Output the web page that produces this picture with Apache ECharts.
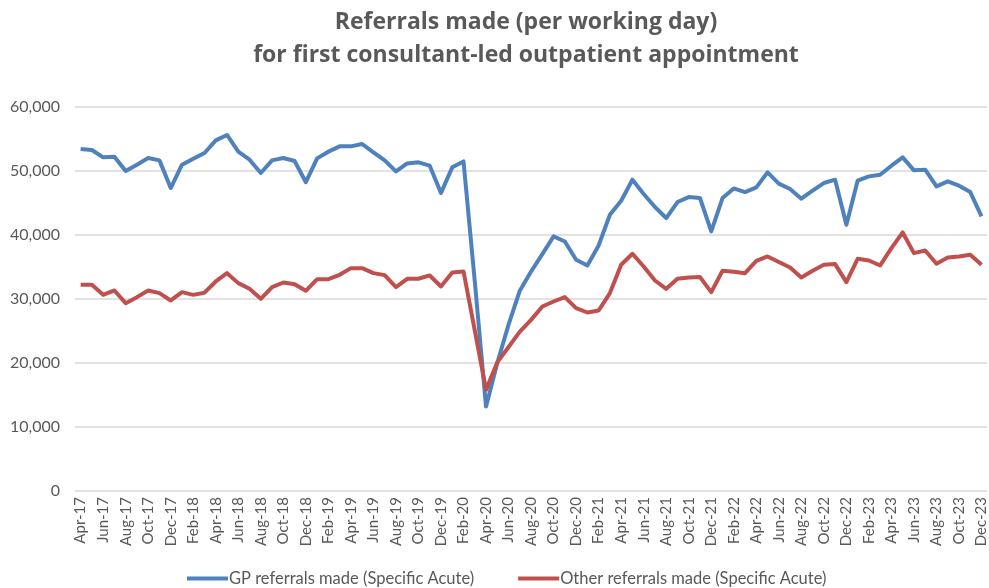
<!DOCTYPE html>
<html>
<head>
<meta charset="utf-8">
<script src="https://cdn.jsdelivr.net/npm/echarts@6/dist/echarts.min.js"></script>
<style>
	html, body { margin: 0; padding: 0; background: #ffffff; }
	#chart { width: 989px; height: 588px; }
</style>
</head>
<body>
<div id="chart"></div>
<script>
	// month labels, Apr-17 .. Dec-23
	var months = [
		'Apr-17', 'May-17', 'Jun-17', 'Jul-17', 'Aug-17', 'Sep-17', 'Oct-17', 'Nov-17', 'Dec-17',
		'Jan-18', 'Feb-18', 'Mar-18', 'Apr-18', 'May-18', 'Jun-18', 'Jul-18', 'Aug-18', 'Sep-18', 'Oct-18', 'Nov-18', 'Dec-18',
		'Jan-19', 'Feb-19', 'Mar-19', 'Apr-19', 'May-19', 'Jun-19', 'Jul-19', 'Aug-19', 'Sep-19', 'Oct-19', 'Nov-19', 'Dec-19',
		'Jan-20', 'Feb-20', 'Mar-20', 'Apr-20', 'May-20', 'Jun-20', 'Jul-20', 'Aug-20', 'Sep-20', 'Oct-20', 'Nov-20', 'Dec-20',
		'Jan-21', 'Feb-21', 'Mar-21', 'Apr-21', 'May-21', 'Jun-21', 'Jul-21', 'Aug-21', 'Sep-21', 'Oct-21', 'Nov-21', 'Dec-21',
		'Jan-22', 'Feb-22', 'Mar-22', 'Apr-22', 'May-22', 'Jun-22', 'Jul-22', 'Aug-22', 'Sep-22', 'Oct-22', 'Nov-22', 'Dec-22',
		'Jan-23', 'Feb-23', 'Mar-23', 'Apr-23', 'May-23', 'Jun-23', 'Jul-23', 'Aug-23', 'Sep-23', 'Oct-23', 'Nov-23', 'Dec-23'
	];

	var gpReferrals = [
		53440, 53280, 52130, 52240, 50000, 50990, 52030, 51660, 47340,
		50990, 51920, 52810, 54790, 55630, 53020, 51770, 49690, 51660, 52030, 51560, 48250,
		51970, 53020, 53850, 53850, 54220, 52910, 51660, 49940, 51190, 51350, 50830, 46560,
		50570, 51500, 32800, 13190, 20000, 26000, 31300, 34300, 37020, 39780, 38990, 36130,
		35240, 38370, 43170, 45360, 48640, 46400, 44370, 42650, 45150, 45930, 45770, 40560,
		45770, 47280, 46710, 47440, 49790, 48020, 47190, 45670, 46920, 48120, 48640, 41600,
		48480, 49160, 49420, 50830, 52130, 50100, 50200, 47590, 48370, 47700, 46710, 42900
	];

	var otherReferrals = [
		32220, 32220, 30650, 31330, 29350, 30290, 31330, 30920, 29770,
		31070, 30650, 30990, 32740, 34040, 32480, 31590, 30030, 31860, 32580, 32300, 31280,
		33100, 33100, 33780, 34820, 34820, 34040, 33730, 31860, 33160, 33160, 33680, 31960,
		34150, 34310, 25100, 15800, 20100, 22500, 24900, 26740, 28830, 29610, 30290, 28570,
		27890, 28200, 30920, 35350, 37070, 35080, 32890, 31590, 33160, 33360, 33420, 31070,
		34410, 34250, 34040, 35970, 36650, 35770, 34930, 33360, 34410, 35350, 35450, 32640,
		36280, 36020, 35240, 37950, 40400, 37170, 37580, 35500, 36490, 36650, 36910, 35350
	];

	var yTicks = [0, 10000, 20000, 30000, 40000, 50000, 60000];

	var textColor = '#595959';
	var fontName = 'Lato, "Open Sans", sans-serif';

	var chart = echarts.init(document.getElementById('chart'), null, { renderer: 'canvas' });

	var option = {
		animation: false,
		backgroundColor: '#ffffff',
		title: {
			text: 'Referrals made (per working day)\nfor first consultant-led outpatient appointment',
			left: 521,
			top: 1,
			textAlign: 'center',
			textStyle: {
				color: textColor,
				fontFamily: '"Open Sans", Lato, sans-serif',
				fontWeight: 'bold',
				fontSize: 23,
				lineHeight: 33
			}
		},
		legend: {
			bottom: -4,
			left: 182,
			itemGap: 44,
			itemWidth: 41,
			itemHeight: 4,
			icon: 'rect',
			textStyle: {
				color: textColor,
				fontFamily: fontName,
				fontSize: 16.5,
				padding: [0, 0, 0, -4]
			},
			data: ['GP referrals made (Specific Acute)', 'Other referrals made (Specific Acute)']
		},
		grid: {
			left: 75,
			right: -2,
			top: 107,
			bottom: 97,
			containLabel: false
		},
		xAxis: {
			type: 'category',
			data: months,
			boundaryGap: true,
			axisLine: { show: false },
			axisTick: { show: false },
			axisLabel: {
				interval: 1,
				rotate: 90,
				margin: 6,
				color: textColor,
				fontFamily: fontName,
				fontSize: 15
			}
		},
		yAxis: {
			type: 'value',
			min: yTicks[0],
			max: yTicks[yTicks.length - 1],
			interval: 10000,
			axisLine: { show: false },
			axisTick: { show: false },
			splitLine: { lineStyle: { color: '#d9d9d9', width: 1.5 } },
			axisLabel: {
				margin: 15,
				color: textColor,
				fontFamily: fontName,
				fontSize: 16,
				formatter: function (v) {
					return v.toLocaleString('en-GB');
				}
			}
		},
		series: [{
			name: 'GP referrals made (Specific Acute)',
			type: 'line',
			data: gpReferrals,
			symbol: 'none',
			color: '#4f81bd',
			lineStyle: { width: 4, color: '#4f81bd', join: 'round' }
		}, {
			name: 'Other referrals made (Specific Acute)',
			type: 'line',
			data: otherReferrals,
			symbol: 'none',
			color: '#c0504d',
			lineStyle: { width: 4, color: '#c0504d', join: 'round' }
		}]
	};

	chart.setOption(option);
</script>
</body>
</html>
